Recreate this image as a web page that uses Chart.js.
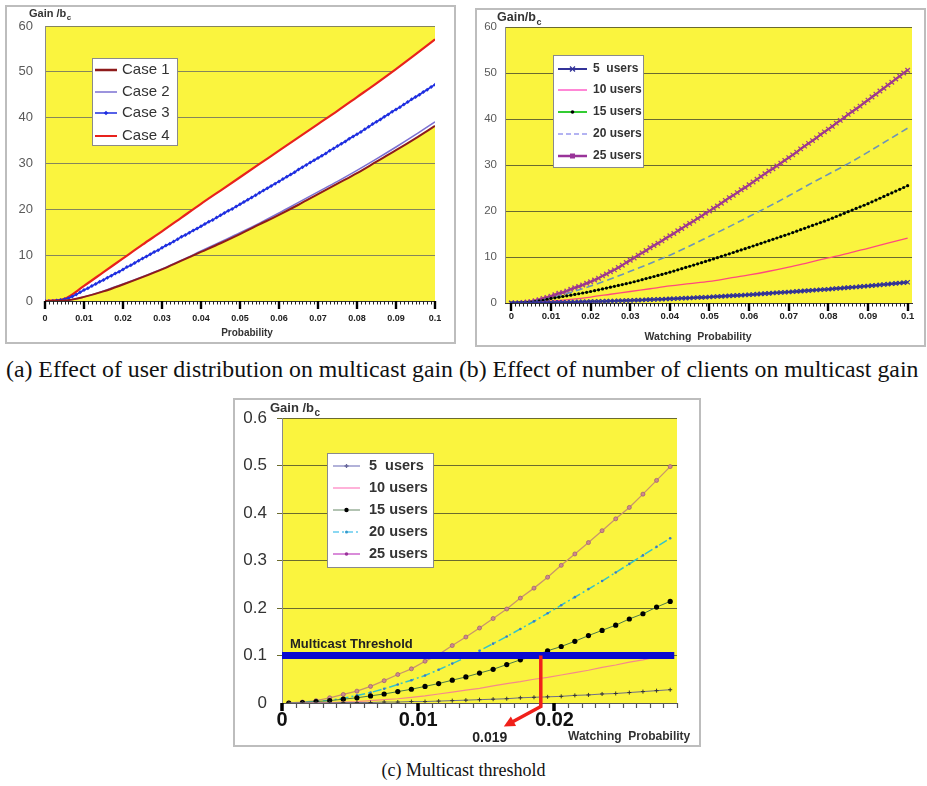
<!DOCTYPE html>
<html>
<head>
<meta charset="utf-8">
<script src="https://cdn.jsdelivr.net/npm/chart.js@4.4.0/dist/chart.umd.min.js"></script>
<style>
  html, body { margin: 0; padding: 0; background: #fff; }
  body { width: 927px; height: 786px; position: relative; overflow: hidden; }
  .frame { position: absolute; box-sizing: border-box; border: 2px solid #bdbdbd; }
  canvas { position: absolute; }
  .cap { position: absolute; font-family: "Liberation Serif", "Times New Roman", serif; color: #111; white-space: nowrap; }
</style>
</head>
<body>
<div class="frame" style="left:5px;top:5px;width:451px;height:339px"></div>
<canvas id="chartA" width="451" height="339" style="left:5px;top:5px"></canvas>

<div class="frame" style="left:475px;top:8px;width:451px;height:339px"></div>
<canvas id="chartB" width="451" height="339" style="left:475px;top:8px"></canvas>

<div class="frame" style="left:233px;top:398px;width:468px;height:349px"></div>
<canvas id="chartC" width="468" height="349" style="left:233px;top:398px"></canvas>

<div class="cap" style="left:6px;top:358px;font-size:23.8px;line-height:1">(a) Effect of user distribution on multicast gain (b) Effect of number of clients on multicast gain</div>
<div class="cap" style="left:0;width:927px;text-align:center;top:760px;font-size:18px">(c) Multicast threshold</div>

<script>
// ---------------- data ----------------
// watching probability grids
const probFine = [
  0, 0.001, 0.002, 0.003, 0.004, 0.005, 0.006, 0.007, 0.008, 0.009,
  0.01, 0.011, 0.012, 0.013, 0.014, 0.015, 0.016, 0.017, 0.018, 0.019,
  0.02, 0.021, 0.022, 0.023, 0.024, 0.025, 0.026, 0.027, 0.028, 0.029,
  0.03, 0.031, 0.032, 0.033, 0.034, 0.035, 0.036, 0.037, 0.038, 0.039,
  0.04, 0.041, 0.042, 0.043, 0.044, 0.045, 0.046, 0.047, 0.048, 0.049,
  0.05, 0.051, 0.052, 0.053, 0.054, 0.055, 0.056, 0.057, 0.058, 0.059,
  0.06, 0.061, 0.062, 0.063, 0.064, 0.065, 0.066, 0.067, 0.068, 0.069,
  0.07, 0.071, 0.072, 0.073, 0.074, 0.075, 0.076, 0.077, 0.078, 0.079,
  0.08, 0.081, 0.082, 0.083, 0.084, 0.085, 0.086, 0.087, 0.088, 0.089,
  0.09, 0.091, 0.092, 0.093, 0.094, 0.095, 0.096, 0.097, 0.098, 0.099,
  0.1
];
const probCoarse = [0, 0.005, 0.01, 0.015, 0.02, 0.025, 0.03, 0.035, 0.04, 0.045, 0.05,
  0.055, 0.06, 0.065, 0.07, 0.075, 0.08, 0.085, 0.09, 0.095, 0.1];

// (a) user distribution cases
const case1 = [0, 0.1, 0.9, 2.1, 3.6, 5.2, 6.9, 8.8, 10.7, 12.6, 14.6, 16.7, 18.8, 21.0, 23.3, 25.6, 27.9, 30.4, 32.9, 35.5, 38.2];
const case2 = [0, 0.1, 0.9, 2.2, 3.7, 5.3, 7.0, 8.9, 10.9, 12.9, 14.9, 17.0, 19.2, 21.5, 23.8, 26.1, 28.5, 31.0, 33.6, 36.3, 39.1];
const case3 = [
  0, 0, 0, 0.1, 0.2, 0.4, 0.6, 1.0, 1.4, 1.9, 2.4,
  2.8, 3.3, 3.7, 4.2, 4.6, 5.1, 5.5, 6.0, 6.4, 6.9,
  7.4, 7.8, 8.3, 8.8, 9.3, 9.7, 10.2, 10.7, 11.1, 11.6,
  12.1, 12.5, 13.0, 13.5, 14.0, 14.4, 14.9, 15.4, 15.8, 16.3,
  16.8, 17.3, 17.7, 18.2, 18.7, 19.2, 19.7, 20.1, 20.6, 21.1,
  21.6, 22.1, 22.6, 23.1, 23.6, 24.1, 24.6, 25.1, 25.6, 26.1,
  26.6, 27.1, 27.6, 28.1, 28.7, 29.2, 29.7, 30.2, 30.7, 31.2,
  31.7, 32.2, 32.8, 33.3, 33.8, 34.3, 34.8, 35.4, 35.9, 36.4,
  36.9, 37.5, 38.0, 38.6, 39.1, 39.6, 40.2, 40.7, 41.3, 41.8,
  42.3, 42.9, 43.4, 44.0, 44.5, 45.0, 45.6, 46.1, 46.7, 47.2
];
const case4 = [0, 0.5, 3.3, 6.3, 9.3, 12.3, 15.2, 18.2, 21.2, 24.1, 27.0, 29.9, 32.8, 35.7, 38.6, 41.5, 44.5, 47.5, 50.6, 53.8, 57.1];

// (b) number of clients
const users5 = [
  0, 0, 0, 0, 0.01, 0.02, 0.03, 0.04, 0.06, 0.08,
  0.1, 0.12, 0.14, 0.16, 0.18, 0.2, 0.22, 0.24, 0.26, 0.28,
  0.3, 0.33, 0.35, 0.38, 0.4, 0.43, 0.45, 0.48, 0.5, 0.53,
  0.55, 0.59, 0.62, 0.66, 0.69, 0.73, 0.76, 0.8, 0.83, 0.87,
  0.9, 0.94, 0.98, 1.02, 1.06, 1.1, 1.14, 1.18, 1.22, 1.26,
  1.3, 1.35, 1.4, 1.45, 1.5, 1.55, 1.6, 1.65, 1.7, 1.75,
  1.8, 1.86, 1.92, 1.98, 2.04, 2.1, 2.16, 2.22, 2.28, 2.34,
  2.4, 2.46, 2.52, 2.58, 2.64, 2.7, 2.76, 2.82, 2.88, 2.94,
  3.0, 3.07, 3.14, 3.21, 3.28, 3.35, 3.42, 3.49, 3.56, 3.63,
  3.7, 3.78, 3.86, 3.94, 4.02, 4.1, 4.18, 4.26, 4.34, 4.42,
  4.5
];
const users10 = [0, 0.1, 0.4, 0.8, 1.3, 1.9, 2.5, 3.1, 3.7, 4.2, 4.7, 5.4, 6.1, 6.9, 7.8, 8.8, 9.8, 10.8, 11.9, 13.0, 14.1];
const users15 = [
  0, 0, 0.02, 0.05, 0.1, 0.18, 0.3, 0.45, 0.6, 0.8,
  1.0, 1.13, 1.27, 1.41, 1.56, 1.71, 1.86, 2.01, 2.17, 2.33,
  2.5, 2.68, 2.86, 3.05, 3.24, 3.43, 3.62, 3.81, 4.0, 4.2,
  4.4, 4.62, 4.84, 5.07, 5.3, 5.53, 5.76, 5.99, 6.22, 6.46,
  6.7, 6.95, 7.21, 7.47, 7.73, 7.99, 8.25, 8.51, 8.77, 9.03,
  9.3, 9.58, 9.86, 10.14, 10.42, 10.7, 10.98, 11.26, 11.54, 11.82,
  12.1, 12.39, 12.68, 12.97, 13.26, 13.55, 13.84, 14.13, 14.42, 14.71,
  15.0, 15.31, 15.62, 15.93, 16.24, 16.55, 16.86, 17.17, 17.48, 17.79,
  18.1, 18.45, 18.8, 19.15, 19.5, 19.85, 20.2, 20.55, 20.9, 21.25,
  21.6, 21.99, 22.38, 22.77, 23.16, 23.55, 23.94, 24.33, 24.72, 25.11,
  25.5
];
const users20 = [0, 0.3, 1.1, 2.3, 3.7, 5.2, 6.9, 8.6, 10.4, 12.4, 14.5, 16.6, 18.8, 21.0, 23.3, 25.7, 28.0, 30.3, 32.8, 35.4, 38.0];
const users25 = [
  0, 0, 0, 0.1, 0.2, 0.3, 0.5, 0.7, 1.0, 1.2,
  1.5, 1.8, 2.1, 2.3, 2.6, 3.0, 3.3, 3.6, 3.9, 4.3,
  4.6, 5.0, 5.4, 5.9, 6.3, 6.8, 7.2, 7.7, 8.2, 8.8,
  9.3, 9.8, 10.4, 10.9, 11.4, 12.0, 12.5, 13.0, 13.5, 14.1,
  14.6, 15.1, 15.7, 16.2, 16.8, 17.3, 17.8, 18.4, 18.9, 19.5,
  20.0, 20.6, 21.1, 21.7, 22.3, 22.9, 23.4, 24.0, 24.6, 25.1,
  25.7, 26.3, 26.9, 27.5, 28.1, 28.7, 29.2, 29.8, 30.4, 31.0,
  31.6, 32.2, 32.8, 33.5, 34.1, 34.7, 35.3, 35.9, 36.6, 37.2,
  37.8, 38.4, 39.1, 39.7, 40.3, 41.0, 41.6, 42.2, 42.8, 43.5,
  44.1, 44.8, 45.4, 46.1, 46.7, 47.4, 48.0, 48.7, 49.3, 50.0,
  50.6
];

// (c) low-probability detail with threshold
const probC = [0.0005, 0.0015, 0.0025, 0.0035, 0.0045, 0.0055, 0.0065, 0.0075, 0.0085, 0.0095,
  0.0105, 0.0115, 0.0125, 0.0135, 0.0145, 0.0155, 0.0165, 0.0175, 0.0185, 0.0195,
  0.0205, 0.0215, 0.0225, 0.0235, 0.0245, 0.0255, 0.0265, 0.0275, 0.0285];
const low5 = [0, 0, 0, 0, 0.001, 0.001, 0.001, 0.002, 0.002, 0.003, 0.003, 0.004, 0.005, 0.006, 0.007,
  0.008, 0.009, 0.011, 0.012, 0.013, 0.014, 0.016, 0.017, 0.019, 0.020, 0.022, 0.024, 0.026, 0.028];
const low10 = [0, 0, 0.001, 0.001, 0.002, 0.003, 0.005, 0.007, 0.009, 0.012, 0.015, 0.019, 0.023, 0.027, 0.031,
  0.036, 0.041, 0.045, 0.050, 0.054, 0.059, 0.064, 0.069, 0.075, 0.080, 0.086, 0.091, 0.097, 0.102];
const low15 = [0, 0.001, 0.003, 0.005, 0.008, 0.011, 0.015, 0.019, 0.024, 0.029, 0.035, 0.041, 0.048, 0.055, 0.063,
  0.071, 0.081, 0.091, 0.099, 0.110, 0.119, 0.130, 0.142, 0.153, 0.164, 0.177, 0.188, 0.202, 0.214];
const low20 = [0, 0.001, 0.003, 0.006, 0.010, 0.016, 0.022, 0.030, 0.039, 0.048, 0.058, 0.070, 0.083, 0.096, 0.110,
  0.125, 0.140, 0.156, 0.172, 0.189, 0.206, 0.223, 0.240, 0.257, 0.275, 0.293, 0.311, 0.329, 0.347];
const low25 = [0, 0.002, 0.005, 0.011, 0.018, 0.025, 0.035, 0.047, 0.060, 0.072, 0.088, 0.102, 0.121, 0.139, 0.158,
  0.178, 0.198, 0.221, 0.242, 0.265, 0.290, 0.314, 0.338, 0.363, 0.388, 0.412, 0.440, 0.469, 0.498];
const thresholdGain = 0.1;
const thresholdProb = 0.019;
const thresholdEnd = 0.0288;

// axis ticks and labels
const xTicksAB = [0, 0.01, 0.02, 0.03, 0.04, 0.05, 0.06, 0.07, 0.08, 0.09, 0.1];
const xLabelsAB = ['0', '0.01', '0.02', '0.03', '0.04', '0.05', '0.06', '0.07', '0.08', '0.09', '0.1'];
const yTicksAB = [0, 10, 20, 30, 40, 50, 60];
const yLabelsAB = ['0', '10', '20', '30', '40', '50', '60'];
const xTicksC = [0, 0.01, 0.02];
const xLabelsC = ['0', '0.01', '0.02'];
const yTicksC = [0, 0.1, 0.2, 0.3, 0.4, 0.5, 0.6];
const yLabelsC = ['0', '0.1', '0.2', '0.3', '0.4', '0.5', '0.6'];
const caseNames = ['Case 1', 'Case 2', 'Case 3', 'Case 4'];
const userNames = ['5  users', '10 users', '15 users', '20 users', '25 users'];

// ---------------- helpers ----------------
const SANS = '"Liberation Sans", Arial, Helvetica, sans-serif';
Chart.defaults.font.family = SANS;

const pair = (xs, ys) => xs.map((x, i) => ({ x: x, y: ys[i] }));

function drawMarker(ctx, style, x, y, r, color) {
  if (!style || !r) return;
  ctx.save();
  ctx.setLineDash([]);
  ctx.fillStyle = color; ctx.strokeStyle = color; ctx.lineWidth = 1.3;
  ctx.beginPath();
  if (style === 'circle') { ctx.arc(x, y, r, 0, Math.PI * 2); ctx.fill(); }
  else if (style === 'crossRot') { ctx.moveTo(x - r, y - r); ctx.lineTo(x + r, y + r); ctx.moveTo(x + r, y - r); ctx.lineTo(x - r, y + r); ctx.stroke(); }
  else if (style === 'cross') { ctx.moveTo(x - r, y); ctx.lineTo(x + r, y); ctx.moveTo(x, y - r); ctx.lineTo(x, y + r); ctx.stroke(); }
  else if (style === 'rectRot') { ctx.moveTo(x, y - r); ctx.lineTo(x + r, y); ctx.lineTo(x, y + r); ctx.lineTo(x - r, y); ctx.closePath(); ctx.fill(); }
  else if (style === 'rect') { ctx.fillRect(x - r, y - r, 2 * r, 2 * r); }
  ctx.restore();
}

// plot background, tick comb, titles, boxed legend and threshold arrow
function makeFigure(o) {
  return {
    id: 'figure',
    beforeDraw(chart) {
      const a = chart.chartArea, ctx = chart.ctx;
      ctx.save();
      ctx.fillStyle = o.plotColor;
      ctx.fillRect(a.left, a.top, a.right - a.left, a.bottom - a.top);
      ctx.restore();
    },
    afterDraw(chart) {
      const ctx = chart.ctx, a = chart.chartArea, xs = chart.scales.x, ys = chart.scales.y;
      ctx.save();
      // tick comb under the category axis
      const c = o.comb;
      const n = Math.round((c.last - c.first) / c.step);
      for (let i = 0; i <= n; i++) {
        const major = i % c.majorEvery === 0;
        const px = Math.round(xs.getPixelForValue(c.first + i * c.step)) + (major ? 0 : 0.5);
        ctx.beginPath();
        ctx.strokeStyle = major ? c.majorColor : c.minorColor;
        ctx.lineWidth = major ? c.majorWidth : c.minorWidth;
        ctx.moveTo(px, a.bottom);
        ctx.lineTo(px, a.bottom + (major ? c.majorLen : c.minorLen));
        ctx.stroke();
      }
      // threshold arrow (panel c)
      if (o.arrow) {
        const ar = o.arrow;
        const px = xs.getPixelForValue(ar.prob);
        const pTop = ys.getPixelForValue(ar.gain);
        const pBase = ys.getPixelForValue(0) + ar.drop;
        const ex = px + ar.dx, ey = pBase + ar.dy;
        const len = Math.hypot(ex - px, ey - pBase);
        const ux = (ex - px) / len, uy = (ey - pBase) / len;
        ctx.strokeStyle = ar.color; ctx.fillStyle = ar.color;
        ctx.lineWidth = ar.width; ctx.lineJoin = 'miter';
        ctx.beginPath();
        ctx.moveTo(px, pTop);
        ctx.lineTo(px, pBase);
        ctx.lineTo(ex - ux * 8, ey - uy * 8);
        ctx.stroke();
        ctx.beginPath();
        ctx.moveTo(ex, ey);
        ctx.lineTo(ex - ux * 11 - uy * 5.5, ey - uy * 11 + ux * 5.5);
        ctx.lineTo(ex - ux * 11 + uy * 5.5, ey - uy * 11 - ux * 5.5);
        ctx.closePath();
        ctx.fill();
        ctx.font = ar.font; ctx.fillStyle = ar.textColor;
        ctx.textAlign = 'center'; ctx.textBaseline = 'middle';
        ctx.fillText(String(ar.prob), ex + ar.labelDx, ey + ar.labelDy);
        ctx.textAlign = 'left';
        ctx.font = ar.captionFont;
        ctx.fillText(ar.caption, a.left + ar.captionDx, pTop + ar.captionDy);
      }
      // axis title texts
      (o.texts || []).forEach(t => {
        ctx.font = t.font; ctx.fillStyle = t.color;
        ctx.textAlign = t.align || 'left'; ctx.textBaseline = 'middle';
        ctx.fillText(t.text, t.x, t.y);
      });
      // y title with subscript
      if (o.gain) {
        const g = o.gain;
        ctx.font = 'bold ' + g.size + 'px ' + SANS;
        ctx.fillStyle = g.color; ctx.textAlign = 'left'; ctx.textBaseline = 'middle';
        ctx.fillText(g.text, g.x, g.y);
        const w = ctx.measureText(g.text).width;
        ctx.font = 'bold ' + Math.round(g.size * 0.75) + 'px ' + SANS;
        ctx.fillText(g.sub, g.x + w + 0.5, g.y + g.size * 0.38);
      }
      // boxed legend
      if (o.legend) {
        const L = o.legend;
        const [bx, by, bw, bh] = L.box;
        ctx.fillStyle = '#ffffff';
        ctx.fillRect(bx, by, bw, bh);
        ctx.strokeStyle = L.border; ctx.lineWidth = 1;
        ctx.strokeRect(bx + 0.5, by + 0.5, bw - 1, bh - 1);
        L.items.forEach((idx, k) => {
          const ds = chart.data.datasets[idx];
          const look = ds.legendLook || {};
          const y = L.rows[k];
          ctx.save();
          ctx.strokeStyle = look.color || ds.borderColor;
          ctx.lineWidth = look.width || ds.borderWidth;
          ctx.setLineDash(look.dash || ds.borderDash || []);
          ctx.beginPath();
          ctx.moveTo(L.line[0], y); ctx.lineTo(L.line[1], y);
          ctx.stroke();
          ctx.restore();
          drawMarker(ctx, look.marker, (L.line[0] + L.line[1]) / 2, y, look.markerSize, look.markerColor);
          ctx.font = L.font; ctx.fillStyle = L.color;
          ctx.textAlign = 'left'; ctx.textBaseline = 'middle';
          ctx.fillText(ds.label, L.textX, y);
        });
      }
      ctx.restore();
    }
  };
}

function yAxis(o) {
  return {
    type: 'linear', min: o.min, max: o.max, z: o.z || 0,
    afterBuildTicks: s => { s.ticks = o.values.map(v => ({ value: v })); },
    afterFit: s => { s.width = o.width; },
    ticks: { callback: (v, i) => o.labels[i], color: o.color, font: o.font, padding: o.padding, autoSkip: false },
    grid: {
      color: o.gridColor,
      lineWidth: c => (c.tick && c.tick.value === 0 ? 0 : 1),
      drawTicks: !!o.tickLen, tickLength: o.tickLen || 0, tickColor: o.gridColor
    },
    border: { display: true, color: o.axisColor, width: 1 }
  };
}

function xAxis(o) {
  return {
    type: 'linear', min: o.min, max: o.max,
    afterBuildTicks: s => { s.ticks = o.values.map(v => ({ value: v })); },
    afterFit: s => { s.height = o.height; },
    ticks: { callback: (v, i) => o.labels[i], color: o.color, font: o.font, padding: o.padding,
             autoSkip: false, maxRotation: 0, minRotation: 0 },
    grid: { display: false, drawTicks: false, tickLength: 0 },
    border: { display: true, color: o.axisColor, width: 1 }
  };
}

function baseOptions(pad, scales) {
  return {
    responsive: false, animation: false, events: [],
    layout: { padding: pad },
    scales: scales,
    elements: { line: { tension: 0 } },
    plugins: { legend: { display: false }, tooltip: { enabled: false } }
  };
}

// ---------------- (a) ----------------
new Chart(document.getElementById('chartA'), {
  type: 'line',
  data: {
    datasets: [
      { label: caseNames[0], data: pair(probCoarse, case1), borderColor: '#8E1B1B', borderWidth: 2,
        pointRadius: 0, cubicInterpolationMode: 'monotone', fill: false,
        legendLook: { color: '#8E1B1B', width: 2.5 } },
      { label: caseNames[1], data: pair(probCoarse, case2), borderColor: '#7B70D2', borderWidth: 1.5,
        pointRadius: 0, cubicInterpolationMode: 'monotone', fill: false,
        legendLook: { color: '#7B70D2', width: 1.5 } },
      { label: caseNames[2], data: pair(probFine, case3), borderColor: '#1E2EE0', borderWidth: 1.6,
        pointStyle: 'rectRot', pointRadius: 2, pointBackgroundColor: '#1E2EE0', pointBorderWidth: 0, fill: false,
        legendLook: { color: '#1E2EE0', width: 1.5, marker: 'rectRot', markerSize: 2.2, markerColor: '#1E2EE0' } },
      { label: caseNames[3], data: pair(probCoarse, case4), borderColor: '#E8221C', borderWidth: 2.2,
        pointRadius: 0, cubicInterpolationMode: 'monotone',
        fill: '-3', backgroundColor: '#ffffff',
        legendLook: { color: '#E8221C', width: 2 } }
    ]
  },
  options: baseOptions({ left: 0, top: 21, right: 21, bottom: 0 }, {
    x: xAxis({ min: 0, max: 0.1, values: xTicksAB, labels: xLabelsAB, height: 43,
               color: '#222', font: { size: 9, weight: 'bold' }, padding: 12, axisColor: '#333' }),
    y: yAxis({ min: 0, max: 60, values: yTicksAB, labels: yLabelsAB, width: 40, z: 1,
               color: '#5a5a5a', font: { size: 13 }, padding: 12, gridColor: '#85855c', axisColor: '#8a8a8a' })
  }),
  plugins: [makeFigure({
    plotColor: '#FAF43E',
    comb: { first: 0, last: 0.1, step: 0.001, majorEvery: 10, minorLen: 3.5, minorWidth: 1, minorColor: '#222',
            majorLen: 8, majorWidth: 2.4, majorColor: '#000' },
    gain: { text: 'Gain /b', sub: 'c', x: 24, y: 9, size: 11, color: '#333' },
    texts: [ { text: 'Probability', x: 242, y: 328, font: 'bold 10px ' + SANS, color: '#333', align: 'center' } ],
    legend: { box: [87, 53, 86, 88], rows: [65, 87, 108, 131], line: [90, 112], textX: 117,
              font: '15px ' + SANS, color: '#333', border: '#8a8a8a', items: [0, 1, 2, 3] }
  })]
});

// ---------------- (b) ----------------
new Chart(document.getElementById('chartB'), {
  type: 'line',
  data: {
    datasets: [
      { label: userNames[0], data: pair(probFine, users5), borderColor: '#2B2B88', borderWidth: 2,
        pointStyle: 'crossRot', pointRadius: 3, pointBorderColor: '#34349A', pointBorderWidth: 1.2,
        legendLook: { color: '#333399', width: 2, marker: 'crossRot', markerSize: 2.5, markerColor: '#333399' } },
      { label: userNames[1], data: pair(probCoarse, users10), borderColor: '#FF4A7D', borderWidth: 1.3,
        pointRadius: 0, cubicInterpolationMode: 'monotone',
        legendLook: { color: '#FF5FC8', width: 1.5 } },
      { label: userNames[2], data: pair(probFine, users15), borderColor: '#2E8B2E', borderWidth: 1,
        pointStyle: 'circle', pointRadius: 1.6, pointBackgroundColor: '#000', pointBorderWidth: 0,
        legendLook: { color: '#33CC33', width: 2, marker: 'circle', markerSize: 1.8, markerColor: '#000' } },
      { label: userNames[3], data: pair(probCoarse, users20), borderColor: '#6C93B8', borderWidth: 1.6,
        borderDash: [7, 4], pointRadius: 0, cubicInterpolationMode: 'monotone',
        legendLook: { color: '#9A9AEE', width: 1.5, dash: [5, 3] } },
      { label: userNames[4], data: pair(probFine, users25), borderColor: '#8F2A80', borderWidth: 2,
        pointStyle: 'crossRot', pointRadius: 3.2, pointBorderColor: '#A03A90', pointBorderWidth: 1.3,
        legendLook: { color: '#993399', width: 2.5, marker: 'rect', markerSize: 2.5, markerColor: '#993399' } }
    ]
  },
  options: baseOptions({ left: 0, top: 19, right: 14, bottom: 0 }, {
    x: xAxis({ min: -0.0016, max: 0.1011, values: xTicksAB, labels: xLabelsAB, height: 44,
               color: '#222', font: { size: 9.5, weight: 'bold' }, padding: 8, axisColor: '#333' }),
    y: yAxis({ min: 0, max: 60, values: yTicksAB, labels: yLabelsAB, width: 30,
               color: '#5a5a5a', font: { size: 11.5 }, padding: 8, gridColor: '#6a6a30', axisColor: '#8a8a8a' })
  }),
  plugins: [makeFigure({
    plotColor: '#FAF43E',
    comb: { first: 0, last: 0.1, step: 0.001, majorEvery: 10, minorLen: 3.5, minorWidth: 1, minorColor: '#222',
            majorLen: 8, majorWidth: 2.4, majorColor: '#000' },
    gain: { text: 'Gain/b', sub: 'c', x: 22, y: 10, size: 12.5, color: '#333' },
    texts: [ { text: 'Watching  Probability', x: 223, y: 329, font: 'bold 10.5px ' + SANS, color: '#333', align: 'center' } ],
    legend: { box: [78, 47, 91, 113], rows: [61, 82, 104, 126, 148], line: [83, 112], textX: 118,
              font: 'bold 12px ' + SANS, color: '#333', border: '#8a8a8a', items: [0, 1, 2, 3, 4] }
  })]
});

// ---------------- (c) ----------------
new Chart(document.getElementById('chartC'), {
  type: 'line',
  data: {
    datasets: [
      { label: userNames[0], data: pair(probC, low5), borderColor: '#6E6E88', borderWidth: 1,
        pointStyle: 'cross', pointRadius: 2, pointBorderColor: '#333', pointBorderWidth: 1,
        legendLook: { color: '#9999CC', width: 1.5, marker: 'cross', markerSize: 2, markerColor: '#666699' } },
      { label: userNames[1], data: pair(probC, low10), borderColor: '#F58A8A', borderWidth: 1.2, pointRadius: 0,
        legendLook: { color: '#FF99CC', width: 1.5 } },
      { label: userNames[2], data: pair(probC, low15), borderColor: '#4A7A4A', borderWidth: 1,
        pointStyle: 'circle', pointRadius: 2.6, pointBackgroundColor: '#000', pointBorderWidth: 0,
        legendLook: { color: '#668866', width: 1, marker: 'circle', markerSize: 2.2, markerColor: '#000' } },
      { label: userNames[3], data: pair(probC, low20), borderColor: '#35C4C8', borderWidth: 1.5,
        borderDash: [9, 3, 2, 3], pointStyle: 'circle', pointRadius: 1.3, pointBackgroundColor: '#3C78C8', pointBorderWidth: 0,
        legendLook: { color: '#66CCEE', width: 1.5, dash: [6, 3, 2, 3], marker: 'circle', markerSize: 1.5, markerColor: '#3399CC' } },
      { label: userNames[4], data: pair(probC, low25), borderColor: '#C9956B', borderWidth: 1.3,
        pointStyle: 'circle', pointRadius: 2, pointBackgroundColor: '#D08A8A', pointBorderColor: '#A0607A', pointBorderWidth: 0.8,
        legendLook: { color: '#CC66CC', width: 1.5, marker: 'circle', markerSize: 1.8, markerColor: '#993399' } },
      { label: 'Multicast Threshold', data: [{ x: 0, y: thresholdGain }, { x: thresholdEnd, y: thresholdGain }],
        borderColor: '#0A0AD0', borderWidth: 7, pointRadius: 0, borderCapStyle: 'butt', order: -1 }
    ]
  },
  options: baseOptions({ left: 0, top: 20, right: 24, bottom: 0 }, {
    x: xAxis({ min: 0, max: 0.029, values: xTicksC, labels: xLabelsC, height: 44,
               color: '#111', font: { size: 20, weight: 'bold' }, padding: 5, axisColor: '#555' }),
    y: yAxis({ min: 0, max: 0.6, values: yTicksC, labels: yLabelsC, width: 49, tickLen: 5,
               color: '#333', font: { size: 17 }, padding: 10, gridColor: '#6b6b2e', axisColor: '#8a8a8a' })
  }),
  plugins: [makeFigure({
    plotColor: '#FAF43E',
    comb: { first: 0, last: 0.029, step: 0.001, majorEvery: 10, minorLen: 5, minorWidth: 1.2, minorColor: '#555',
            majorLen: 8, majorWidth: 3.5, majorColor: '#000' },
    gain: { text: 'Gain /b', sub: 'c', x: 37, y: 10, size: 13, color: '#333' },
    texts: [ { text: 'Watching  Probability', x: 335, y: 339, font: 'bold 12px ' + SANS, color: '#333', align: 'left' } ],
    arrow: { prob: thresholdProb, gain: thresholdGain, drop: 3.5, dx: -37, dy: 20, color: '#F0201A', width: 3.5,
             font: 'bold 14px ' + SANS, textColor: '#222', labelDx: -14, labelDy: 12,
             caption: 'Multicast Threshold', captionFont: 'bold 13px ' + SANS, captionDx: 8, captionDy: -11 },
    legend: { box: [94, 55, 107, 115], rows: [68, 90, 112, 134, 156], line: [100, 127], textX: 136,
              font: 'bold 14.5px ' + SANS, color: '#333', border: '#8a8a8a', items: [0, 1, 2, 3, 4] }
  })]
});
</script>
</body>
</html>
